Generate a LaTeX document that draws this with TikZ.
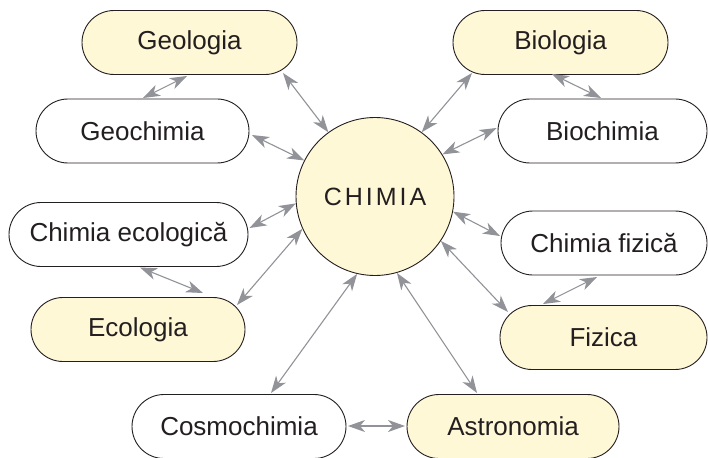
\documentclass[tikz,border=0pt]{standalone}
\usepackage{fontspec}
\setmainfont{Liberation Sans}
\newfontfamily\chimfont[LetterSpace=12]{Liberation Sans}
\usetikzlibrary{arrows.meta,calc}
\definecolor{ylw}{RGB}{255,248,214}
\definecolor{ink}{RGB}{35,31,32}
\definecolor{arrgray}{RGB}{145,147,152}
\tikzset{
  box/.style={draw=ink, line width=0.9pt, rounded corners=32pt, minimum height=64pt,
    inner sep=0pt, text=ink, font=\fontsize{26}{30}\selectfont},
  wbox/.style={box, fill=white},
  ybox/.style={box, fill=ylw},
  tipg/.tip={Stealth[length=17pt,width=12pt,inset=5pt]},
  dbl/.style={draw=arrgray, line width=1.1pt, tipg-tipg},
}
\begin{document}
\begin{tikzpicture}[x=1pt,y=-1pt]
\useasboundingbox (0,0) rectangle (708,457);
\fill[white] (0,0) rectangle (708,457);

\node[ybox, minimum width=215pt] (geologia) at (189.5,42.5) {Geologia};
\node[wbox, minimum width=213pt] (geochimia) at (142.5,131) {Geochimia};
\node[ybox, minimum width=215pt] (biologia) at (560.5,42.5) {Biologia};
\node[wbox, minimum width=209pt] (biochimia) at (602.5,131) {Biochimia};
\node[wbox, minimum width=239pt] (chimiaeco) at (128.5,234.5) {Chimia ecologică};
\node[ybox, minimum width=214pt] (ecologia) at (138,329.5) {Ecologia};
\node[wbox, minimum width=206pt] (chimiafiz) at (604,243) {Chimia fizică};
\node[ybox, minimum width=207pt] (fizica) at (603.5,337.5) {Fizica};
\node[wbox, minimum width=214pt] (cosmo) at (239,426.5) {Cosmochimia};
\node[ybox, minimum width=212pt] (astro) at (513,426.5) {Astronomia};
\node[circle, draw=ink, fill=ylw, line width=0.9pt, minimum size=158pt, inner sep=0pt,
  text=ink, font=\chimfont\fontsize{25}{30}\selectfont] (chimia) at (375,196.5) {CHIMIA};

\draw[dbl] ($(geologia)+(-2.5,33.5)$) -- ($(geochimia)+(0.5,-33)$);
\draw[dbl] ($(geologia)+(93.5,30.5)$) -- (chimia.126);
\draw[dbl] ($(geochimia)+(109.5,4)$) -- (chimia.153);
\draw[dbl] ($(biologia)+(-88.5,30.5)$) -- (chimia.54);
\draw[dbl] ($(biologia)+(-8.5,31.5)$) -- ($(biochimia)+(-1.5,-33)$);
\draw[dbl] ($(biochimia)+(-106,-3)$) -- (chimia.32);
\draw[dbl] ($(chimiaeco)+(121,-6.5)$) -- (chimia.185);
\draw[dbl] ($(chimiaeco)+(11.5,33)$) -- ($(ecologia)+(65,-36.5)$);
\draw[dbl] ($(ecologia)+(99,-24.5)$) -- (chimia.204);
\draw[dbl] ($(chimiafiz)+(-104,-7)$) -- (chimia.-11);
\draw[dbl] ($(fizica)+(-95.5,-25.5)$) -- (chimia.-34.5);
\draw[dbl] ($(chimiafiz)+(-7,34)$) -- ($(fizica)+(-60.5,-33.5)$);
\draw[dbl] ($(cosmo)+(32,-33.5)$) -- (chimia.-103.6);
\draw[dbl] ($(astro)+(-36,-33.5)$) -- (chimia.-74.7);
\draw[dbl] ($(cosmo)+(109,-0.5)$) -- ($(astro)+(-108,-0.5)$);
\end{tikzpicture}
\end{document}
